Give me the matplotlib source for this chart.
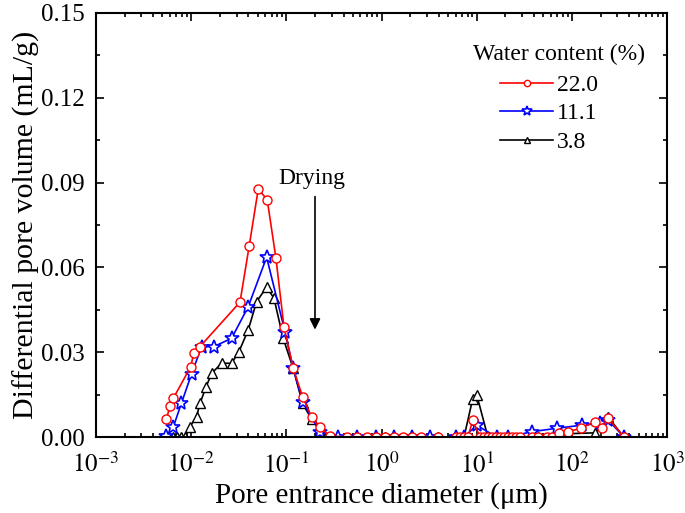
import matplotlib
matplotlib.use('Agg')
import matplotlib.pyplot as plt
from matplotlib.ticker import MultipleLocator, LogLocator, NullFormatter, FormatStrFormatter

plt.rcParams['font.family'] = ['Liberation Serif', 'DejaVu Serif']
plt.rcParams['mathtext.fontset'] = 'stix'

# 孔径 (μm) 与微分孔隙体积 (mL/g)
d_22 = [0.0055, 0.0060, 0.0065, 0.0099, 0.0107, 0.0124, 0.0326, 0.0408, 0.0507, 0.063,
        0.0778, 0.0944, 0.118, 0.148, 0.184, 0.225, 0.287, 0.436, 0.556, 0.708,
        0.874, 1.09, 1.35, 1.67, 2.07, 2.58, 3.94, 6.05, 6.67, 7.35,
        8.1, 9.06, 10.8, 11.9, 13.1, 14.5, 15.9, 17.5, 19.3, 21.3,
        23.4, 25.8, 28.4, 37.7, 44.0, 54.2, 61.2, 73.6, 91.5, 123,
        175, 205, 241, 351]
v_22 = [0.0063, 0.0110, 0.0137, 0.0249, 0.0298, 0.0320, 0.0477, 0.0677, 0.0877, 0.0839,
        0.0632, 0.0390, 0.0243, 0.0143, 0.0072, 0.0034, 0.0004, 0.0, 0.0, 0.0,
        0.0, 0.0, 0.0, 0.0, 0.0, 0.0, 0.0, 0.0, 0.0, 0.0,
        0.0, 0.0060, 0.0, 0.0, 0.0, 0.0, 0.0, 0.0, 0.0, 0.0,
        0.0, 0.0, 0.0, 0.0, 0.0, 0.0, 0.0, 0.0015, 0.0019, 0.0031,
        0.0054, 0.0031, 0.0066, 0.0]

d_11 = [0.0055, 0.0065, 0.0079, 0.0101, 0.0129, 0.0173, 0.0266, 0.0398, 0.0621, 0.0967,
        0.118, 0.148, 0.225, 0.351, 0.556, 0.874, 1.35, 2.07, 3.22, 6.05,
        7.35, 9.98, 16.2, 21.3, 37.7, 69.1, 126, 197, 241, 351]
v_11 = [0.0005, 0.0036, 0.0119, 0.0223, 0.0320, 0.0320, 0.0349, 0.0461, 0.0636, 0.0373,
        0.0243, 0.0125, 0.0019, 0.0, 0.0, 0.0, 0.0, 0.0, 0.0, 0.0,
        0.0, 0.0042, 0.0, 0.0, 0.0019, 0.0031, 0.0042, 0.0048, 0.0060, 0.0]

d_38 = [0.0064, 0.0071, 0.0078, 0.0086, 0.0097, 0.0114, 0.0124, 0.0143, 0.0164, 0.0209,
        0.0266, 0.0318, 0.0398, 0.0488, 0.0621, 0.0741, 0.0927, 0.118, 0.148, 0.184,
        0.225, 0.287, 0.556, 1.09, 2.07, 3.94, 7.35, 9.06, 9.98, 13.1,
        21.3, 44.0, 91.5, 175, 241, 351]
v_38 = [0.0, 0.0, 0.0, 0.0, 0.0036, 0.0072, 0.0119, 0.0176, 0.0225, 0.0261,
        0.0261, 0.0302, 0.0379, 0.0479, 0.0530, 0.0491, 0.0349, 0.0243, 0.0119, 0.0063,
        0.0025, 0.0, 0.0, 0.0, 0.0, 0.0, 0.0, 0.0135, 0.0150, 0.0,
        0.0, 0.0, 0.0012, 0.0015, 0.0070, 0.0]

x_ticks = [1e-3, 1e-2, 1e-1, 1e0, 1e1, 1e2, 1e3]

fig = plt.figure(figsize=(6.85, 5.13), dpi=100)
ax = fig.add_axes([0.140, 0.148, 0.834, 0.827])

l38, = ax.plot(d_38, v_38, color='black', marker='^', mfc='white', mec='black',
               ms=6.5, lw=1.2, label='3.8')
l11, = ax.plot(d_11, v_11, color='blue', marker='*', mfc='white', mec='blue',
               ms=10, mew=1.2, lw=1.2, label='11.1')
l22, = ax.plot(d_22, v_22, color='red', marker='o', mfc='white', mec='red',
               ms=6.5, lw=1.2, label='22.0')

ax.set_xscale('log')
ax.set_xlim(1e-3, 1e3)
ax.set_ylim(0, 0.15)
ax.yaxis.set_major_locator(MultipleLocator(0.03))
ax.yaxis.set_minor_locator(MultipleLocator(0.015))
ax.yaxis.set_major_formatter(FormatStrFormatter('%.2f'))
ax.set_xticks(x_ticks)
ax.set_xticklabels([r'$10^{%d}$' % round(__import__('math').log10(t)) for t in x_ticks])
ax.xaxis.set_minor_locator(LogLocator(base=10, subs=range(2, 10), numticks=20))
ax.xaxis.set_minor_formatter(NullFormatter())

ax.tick_params(which='both', direction='in', top=True, right=True, labelsize=18, width=1.2)
ax.tick_params(which='major', length=6)
ax.tick_params(which='minor', length=3)
ax.tick_params(axis='y', pad=8)
ax.tick_params(axis='x', pad=11)
for s in ax.spines.values():
    s.set_linewidth(1.5)

ax.set_xlabel('Pore entrance diameter (μm)', fontsize=21, labelpad=3)
ax.set_ylabel('Differential pore volume (mL/g)', fontsize=21.5, labelpad=1)

ax.annotate('', xy=(0.2, 0.0370), xytext=(0.2, 0.0860),
            arrowprops=dict(arrowstyle='-|>', color='black', lw=1.2, mutation_scale=16))
ax.text(0.186, 0.0915, 'Drying', fontsize=17, ha='center', va='center')

# 图例：标题单独放置
ax.text(0.81, 0.901, 'Water content (%)', transform=ax.transAxes, fontsize=17,
        ha='center', va='center')
ax.legend(handles=[l22, l11, l38], loc='upper left', bbox_to_anchor=(0.7075, 0.855),
          frameon=False, fontsize=17, handlelength=2.25, labelspacing=0.3,
          handletextpad=0.15, markerscale=0.7, borderaxespad=0, borderpad=0)

fig.savefig('out.png', dpi=100)
